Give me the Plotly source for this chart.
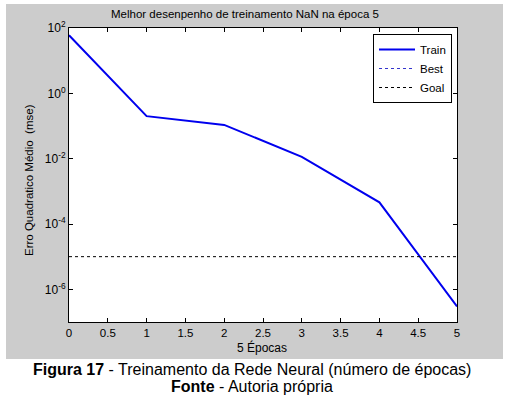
import plotly.graph_objects as go

epochs = [0, 1, 2, 3, 4, 5]
train_mse = [60, 0.2, 0.108, 0.0113, 4.6e-4, 3.0e-7]
goal_x = [0, 5]
goal_mse = [1e-5, 1e-5]
x_ticks = [0, 0.5, 1, 1.5, 2, 2.5, 3, 3.5, 4, 4.5, 5]
y_tickvals = [1e2, 1e0, 1e-2, 1e-4, 1e-6]
y_ticktext = ["10<sup>2</sup>", "10<sup>0</sup>", "10<sup>-2</sup>", "10<sup>-4</sup>", "10<sup>-6</sup>"]

W, H = 517, 398
L, R, T, B = 69, 457, 28, 322
pw, ph = R - L, B - T
def px(x): return (x - L) / pw
def py(y): return (B - y) / ph

font = "Liberation Sans, Arial, sans-serif"

fig = go.Figure()
fig.add_trace(go.Scatter(x=epochs, y=train_mse, mode="lines", name="Train",
                         line=dict(color="#0000ee", width=2)))
fig.add_trace(go.Scatter(x=[None], y=[None], mode="lines", name="Best",
                         line=dict(color="#3333cc", width=1, dash="dot")))
fig.add_trace(go.Scatter(x=goal_x, y=goal_mse, mode="lines", name="Goal",
                         line=dict(color="#000000", width=1, dash="dot")))

fig.update_layout(
    width=W, height=H,
    margin=dict(l=L, r=W - R, t=T, b=H - B, pad=0),
    paper_bgcolor="white", plot_bgcolor="white",
    font=dict(family=font, size=11, color="black"),
    showlegend=True,
    legend=dict(x=px(452), y=py(34), xanchor="right", yanchor="top",
                bgcolor="white", bordercolor="black", borderwidth=1,
                font=dict(size=11.5), tracegroupgap=0, itemwidth=36),
    shapes=[
        dict(type="rect", xref="paper", yref="paper", x0=px(6), x1=px(503), y0=py(359), y1=py(4),
             fillcolor="#cccccc", line=dict(width=0), layer="below"),
        dict(type="rect", xref="paper", yref="paper", x0=0, x1=1, y0=0, y1=1,
             fillcolor="white", line=dict(width=0), layer="below"),
    ],
    annotations=[
        dict(text="Melhor desenpenho de treinamento NaN na época 5", xref="paper", yref="paper",
             x=px(245), y=py(14), showarrow=False, font=dict(size=11.5), xanchor="center", yanchor="middle"),
        dict(text="5 Épocas", xref="paper", yref="paper",
             x=px(262), y=py(347), showarrow=False, font=dict(size=12), xanchor="center", yanchor="middle"),
        dict(text="Erro Quadratico Médio  (mse)", xref="paper", yref="paper", textangle=-90,
             x=px(29), y=py(180), showarrow=False, font=dict(size=11.5), xanchor="center", yanchor="middle"),
        dict(text="<b>Figura 17</b> - Treinamento da Rede Neural (número de épocas)", xref="paper", yref="paper",
             x=px(252), y=py(369), showarrow=False, font=dict(size=16), xanchor="center", yanchor="middle"),
        dict(text="<b>Fonte</b> - Autoria própria", xref="paper", yref="paper",
             x=px(252), y=py(386), showarrow=False, font=dict(size=16), xanchor="center", yanchor="middle"),
    ],
)
fig.update_xaxes(range=[0, 5], tickvals=x_ticks, ticktext=[f"{v:g}" for v in x_ticks],
                 showgrid=False, zeroline=False, showline=True, linecolor="black", linewidth=1,
                 mirror="ticks", ticks="inside", ticklen=4, tickcolor="black", tickfont=dict(size=11.5))
fig.update_yaxes(type="log", range=[-7, 2], tickvals=y_tickvals, ticktext=y_ticktext,
                 showgrid=False, zeroline=False, showline=True, linecolor="black", linewidth=1,
                 mirror="ticks", ticks="inside", ticklen=4, tickcolor="black", tickfont=dict(size=12))

fig.write_html("out.html", config={"displayModeBar": False},
               post_script="document.body.style.margin='0';document.body.style.overflow='hidden';")
